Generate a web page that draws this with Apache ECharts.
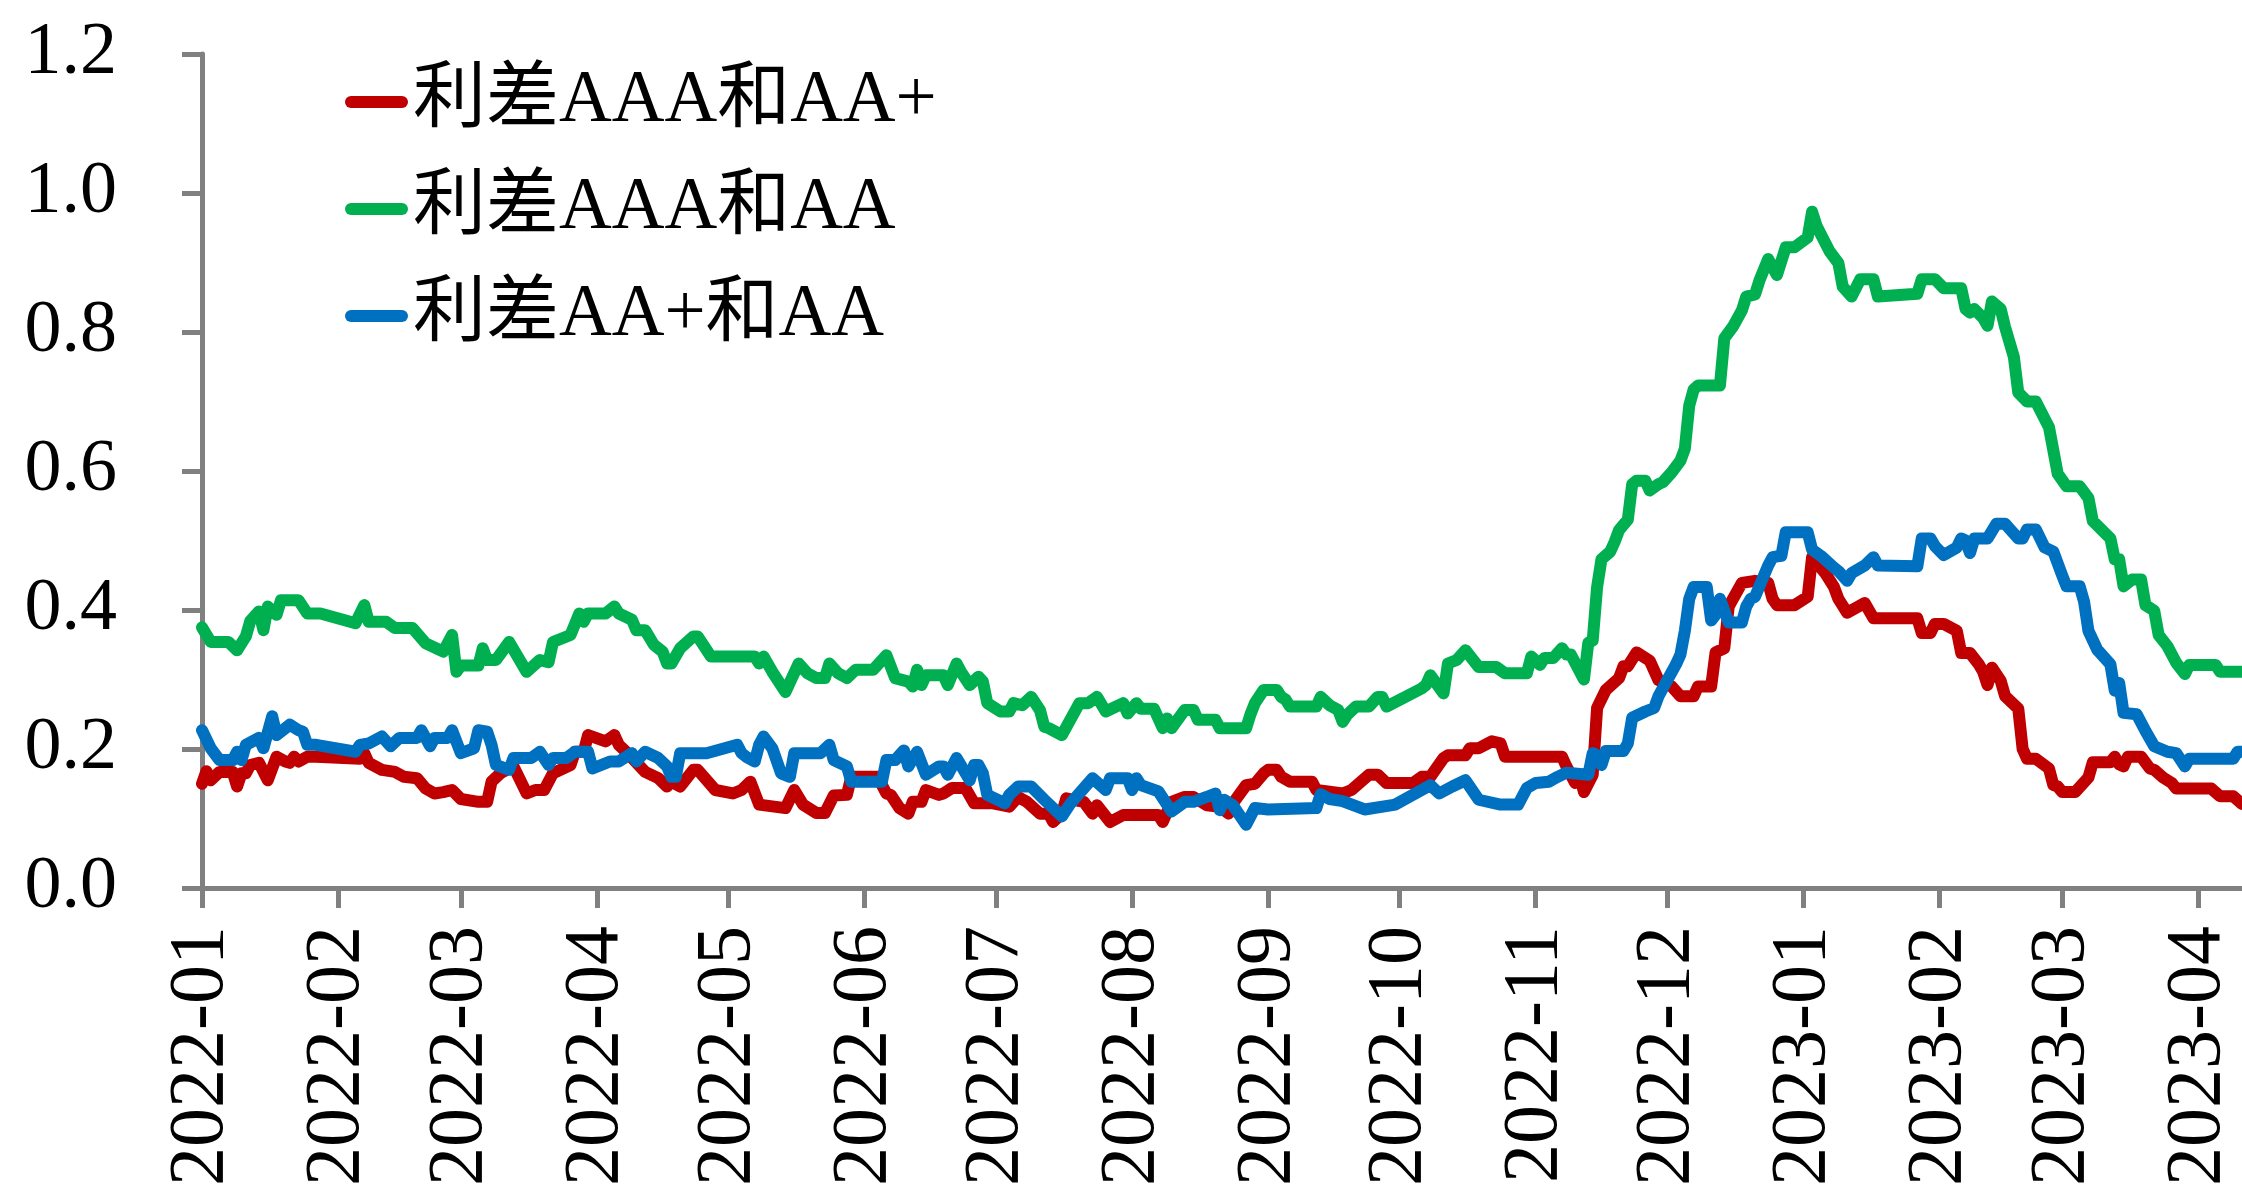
<!DOCTYPE html>
<html>
<head>
<meta charset="utf-8">
<script src="https://cdn.jsdelivr.net/npm/echarts@6/dist/echarts.min.js"></script>
<style>
  html, body { margin: 0; padding: 0; background: #fff; }
  #chart { width: 2242px; height: 1195px; }
</style>
</head>
<body>
<div id="chart"></div>
<script>
// Credit spread series (%), [date, value]
const seriesNames = ['利差AAA和AA+', '利差AAA和AA', '利差AA+和AA'];
const seriesColors = ['#C00000', '#00B050', '#0070C0'];

const spreadAAAvsAAplus = [
  ['2022-01-01',0.150],['2022-01-02',0.168],['2022-01-03',0.155],['2022-01-05',0.167],['2022-01-08',0.167],
  ['2022-01-09',0.146],['2022-01-10',0.165],['2022-01-11',0.165],['2022-01-12',0.177],['2022-01-14',0.180],
  ['2022-01-16',0.155],['2022-01-18',0.189],['2022-01-20',0.182],['2022-01-21',0.180],['2022-01-22',0.189],
  ['2022-01-23',0.182],['2022-01-25',0.189],['2022-01-27',0.189],['2022-02-06',0.186],['2022-02-07',0.194],
  ['2022-02-08',0.180],['2022-02-11',0.170],['2022-02-14',0.167],['2022-02-16',0.160],['2022-02-19',0.158],
  ['2022-02-21',0.143],['2022-02-23',0.136],['2022-02-25',0.138],['2022-02-27',0.141],['2022-03-01',0.128],
  ['2022-03-05',0.124],['2022-03-07',0.124],['2022-03-08',0.153],['2022-03-10',0.165],['2022-03-12',0.172],
  ['2022-03-13',0.175],['2022-03-16',0.136],['2022-03-18',0.141],['2022-03-20',0.141],['2022-03-22',0.165],
  ['2022-03-26',0.177],['2022-03-27',0.196],['2022-03-29',0.196],['2022-03-30',0.220],['2022-04-03',0.211],
  ['2022-04-05',0.220],['2022-04-06',0.206],['2022-04-08',0.194],['2022-04-12',0.167],['2022-04-15',0.158],
  ['2022-04-17',0.146],['2022-04-18',0.153],['2022-04-20',0.146],['2022-04-23',0.170],['2022-04-24',0.170],
  ['2022-04-28',0.141],['2022-05-02',0.136],['2022-05-04',0.141],['2022-05-06',0.153],['2022-05-08',0.120],
  ['2022-05-14',0.115],['2022-05-16',0.141],['2022-05-18',0.120],['2022-05-21',0.108],['2022-05-23',0.108],
  ['2022-05-25',0.133],['2022-05-28',0.134],['2022-05-29',0.160],['2022-06-04',0.160],['2022-06-06',0.136],
  ['2022-06-07',0.134],['2022-06-09',0.115],['2022-06-11',0.107],['2022-06-12',0.124],['2022-06-14',0.124],
  ['2022-06-15',0.141],['2022-06-18',0.134],['2022-06-19',0.136],['2022-06-21',0.144],['2022-06-24',0.144],
  ['2022-06-26',0.122],['2022-06-30',0.122],['2022-07-04',0.117],['2022-07-06',0.131],['2022-07-08',0.124],
  ['2022-07-11',0.107],['2022-07-13',0.107],['2022-07-14',0.095],['2022-07-16',0.107],['2022-07-17',0.129],
  ['2022-07-21',0.124],['2022-07-23',0.107],['2022-07-24',0.119],['2022-07-27',0.095],['2022-07-30',0.105],
  ['2022-08-07',0.105],['2022-08-08',0.095],['2022-08-10',0.124],['2022-08-13',0.131],['2022-08-15',0.131],
  ['2022-08-18',0.119],['2022-08-21',0.117],['2022-08-23',0.107],['2022-08-24',0.122],['2022-08-27',0.148],
  ['2022-08-29',0.150],['2022-08-31',0.165],['2022-09-01',0.170],['2022-09-03',0.170],['2022-09-04',0.160],
  ['2022-09-06',0.153],['2022-09-11',0.153],['2022-09-12',0.141],['2022-09-18',0.136],['2022-09-20',0.141],
  ['2022-09-24',0.163],['2022-09-26',0.163],['2022-09-28',0.151],['2022-10-04',0.151],['2022-10-06',0.160],
  ['2022-10-08',0.160],['2022-10-11',0.187],['2022-10-12',0.191],['2022-10-16',0.191],['2022-10-17',0.201],
  ['2022-10-19',0.201],['2022-10-22',0.211],['2022-10-24',0.208],['2022-10-25',0.189],['2022-11-07',0.189],
  ['2022-11-08',0.175],['2022-11-10',0.151],['2022-11-11',0.163],['2022-11-12',0.138],['2022-11-14',0.163],
  ['2022-11-15',0.259],['2022-11-17',0.285],['2022-11-20',0.302],['2022-11-21',0.319],['2022-11-22',0.319],
  ['2022-11-24',0.339],['2022-11-27',0.327],['2022-11-29',0.299],['2022-12-02',0.290],['2022-12-04',0.276],
  ['2022-12-07',0.276],['2022-12-08',0.290],['2022-12-11',0.290],['2022-12-12',0.339],['2022-12-14',0.345],
  ['2022-12-15',0.405],['2022-12-18',0.439],['2022-12-21',0.442],['2022-12-24',0.439],['2022-12-25',0.416],
  ['2022-12-26',0.407],['2022-12-30',0.407],['2023-01-02',0.419],['2023-01-03',0.476],['2023-01-06',0.453],
  ['2023-01-08',0.433],['2023-01-09',0.416],['2023-01-11',0.396],['2023-01-15',0.410],['2023-01-17',0.388],
  ['2023-01-27',0.388],['2023-01-28',0.367],['2023-01-30',0.367],['2023-01-31',0.380],['2023-02-02',0.380],
  ['2023-02-05',0.370],['2023-02-06',0.338],['2023-02-08',0.338],['2023-02-10',0.322],['2023-02-11',0.311],
  ['2023-02-12',0.292],['2023-02-13',0.317],['2023-02-15',0.298],['2023-02-16',0.276],['2023-02-19',0.258],
  ['2023-02-20',0.200],['2023-02-21',0.186],['2023-02-23',0.186],['2023-02-26',0.172],['2023-02-27',0.148],
  ['2023-02-28',0.146],['2023-03-01',0.138],['2023-03-04',0.138],['2023-03-07',0.159],['2023-03-08',0.181],
  ['2023-03-12',0.181],['2023-03-13',0.189],['2023-03-14',0.178],['2023-03-15',0.175],['2023-03-16',0.189],
  ['2023-03-19',0.189],['2023-03-21',0.172],['2023-03-22',0.170],['2023-03-24',0.159],['2023-03-26',0.151],
  ['2023-03-27',0.143],['2023-04-04',0.143],['2023-04-06',0.132],['2023-04-09',0.132],['2023-04-11',0.121]
];

const spreadAAAvsAA = [
  ['2022-01-01',0.375],['2022-01-03',0.354],['2022-01-07',0.354],['2022-01-09',0.342],['2022-01-11',0.362],
  ['2022-01-12',0.384],['2022-01-14',0.398],['2022-01-15',0.371],['2022-01-16',0.405],['2022-01-18',0.393],
  ['2022-01-19',0.414],['2022-01-23',0.414],['2022-01-25',0.395],['2022-01-28',0.395],['2022-02-05',0.381],
  ['2022-02-07',0.407],['2022-02-08',0.383],['2022-02-12',0.383],['2022-02-14',0.374],['2022-02-18',0.374],
  ['2022-02-21',0.352],['2022-02-25',0.340],['2022-02-27',0.364],['2022-02-28',0.311],['2022-03-01',0.320],
  ['2022-03-05',0.320],['2022-03-06',0.345],['2022-03-07',0.328],['2022-03-09',0.328],['2022-03-12',0.354],
  ['2022-03-16',0.311],['2022-03-19',0.328],['2022-03-21',0.325],['2022-03-22',0.354],['2022-03-26',0.364],
  ['2022-03-28',0.395],['2022-03-29',0.383],['2022-03-30',0.395],['2022-04-03',0.395],['2022-04-05',0.405],
  ['2022-04-06',0.395],['2022-04-09',0.386],['2022-04-10',0.371],['2022-04-12',0.371],['2022-04-14',0.350],
  ['2022-04-16',0.340],['2022-04-17',0.323],['2022-04-18',0.323],['2022-04-20',0.345],['2022-04-23',0.362],
  ['2022-04-24',0.362],['2022-04-27',0.333],['2022-05-07',0.333],['2022-05-08',0.323],['2022-05-09',0.333],
  ['2022-05-11',0.311],['2022-05-14',0.282],['2022-05-17',0.323],['2022-05-19',0.309],['2022-05-21',0.302],
  ['2022-05-23',0.302],['2022-05-24',0.323],['2022-05-26',0.309],['2022-05-28',0.302],['2022-05-30',0.314],
  ['2022-06-03',0.314],['2022-06-06',0.335],['2022-06-08',0.302],['2022-06-11',0.297],['2022-06-12',0.290],
  ['2022-06-13',0.314],['2022-06-14',0.292],['2022-06-15',0.306],['2022-06-19',0.306],['2022-06-20',0.292],
  ['2022-06-22',0.323],['2022-06-23',0.311],['2022-06-25',0.292],['2022-06-27',0.304],['2022-06-28',0.297],
  ['2022-06-29',0.266],['2022-07-02',0.254],['2022-07-04',0.254],['2022-07-05',0.266],['2022-07-07',0.263],
  ['2022-07-09',0.275],['2022-07-11',0.256],['2022-07-12',0.232],['2022-07-13',0.230],['2022-07-16',0.220],
  ['2022-07-20',0.266],['2022-07-22',0.266],['2022-07-24',0.275],['2022-07-26',0.254],['2022-07-30',0.266],
  ['2022-07-31',0.251],['2022-08-02',0.266],['2022-08-03',0.258],['2022-08-06',0.258],['2022-08-08',0.230],
  ['2022-08-09',0.244],['2022-08-10',0.230],['2022-08-13',0.256],['2022-08-15',0.256],['2022-08-16',0.242],
  ['2022-08-20',0.242],['2022-08-21',0.230],['2022-08-27',0.230],['2022-08-28',0.250],['2022-08-29',0.266],
  ['2022-08-31',0.285],['2022-09-03',0.285],['2022-09-04',0.275],['2022-09-05',0.271],['2022-09-06',0.261],
  ['2022-09-12',0.261],['2022-09-13',0.275],['2022-09-15',0.263],['2022-09-17',0.256],['2022-09-18',0.239],
  ['2022-09-19',0.249],['2022-09-21',0.261],['2022-09-24',0.261],['2022-09-26',0.275],['2022-09-27',0.275],
  ['2022-09-28',0.261],['2022-10-06',0.287],['2022-10-07',0.292],['2022-10-08',0.306],['2022-10-11',0.280],
  ['2022-10-12',0.323],['2022-10-14',0.328],['2022-10-16',0.342],['2022-10-19',0.318],['2022-10-23',0.318],
  ['2022-10-25',0.309],['2022-10-30',0.309],['2022-10-31',0.333],['2022-11-02',0.321],['2022-11-03',0.331],
  ['2022-11-05',0.331],['2022-11-07',0.345],['2022-11-08',0.336],['2022-11-09',0.336],['2022-11-12',0.300],
  ['2022-11-13',0.353],['2022-11-14',0.356],['2022-11-15',0.433],['2022-11-16',0.473],['2022-11-18',0.484],
  ['2022-11-19',0.498],['2022-11-20',0.515],['2022-11-22',0.530],['2022-11-23',0.581],['2022-11-24',0.586],
  ['2022-11-26',0.586],['2022-11-27',0.572],['2022-11-29',0.581],['2022-11-30',0.584],['2022-12-02',0.598],
  ['2022-12-04',0.615],['2022-12-05',0.632],['2022-12-06',0.694],['2022-12-07',0.717],['2022-12-08',0.723],
  ['2022-12-13',0.723],['2022-12-14',0.791],['2022-12-16',0.808],['2022-12-18',0.831],['2022-12-19',0.851],
  ['2022-12-21',0.854],['2022-12-22',0.874],['2022-12-24',0.905],['2022-12-26',0.882],['2022-12-28',0.922],
  ['2022-12-30',0.922],['2023-01-02',0.936],['2023-01-03',0.973],['2023-01-04',0.953],['2023-01-07',0.916],
  ['2023-01-09',0.899],['2023-01-10',0.865],['2023-01-12',0.851],['2023-01-14',0.876],['2023-01-17',0.876],
  ['2023-01-18',0.851],['2023-01-27',0.855],['2023-01-28',0.876],['2023-01-31',0.876],['2023-02-02',0.863],
  ['2023-02-06',0.863],['2023-02-07',0.833],['2023-02-08',0.828],['2023-02-09',0.833],['2023-02-11',0.820],
  ['2023-02-12',0.809],['2023-02-13',0.844],['2023-02-15',0.833],['2023-02-16',0.807],['2023-02-18',0.764],
  ['2023-02-19',0.713],['2023-02-21',0.700],['2023-02-23',0.700],['2023-02-26',0.663],['2023-02-28',0.596],
  ['2023-03-02',0.578],['2023-03-05',0.578],['2023-03-07',0.561],['2023-03-08',0.528],['2023-03-12',0.503],
  ['2023-03-13',0.473],['2023-03-14',0.473],['2023-03-15',0.434],['2023-03-17',0.444],['2023-03-19',0.444],
  ['2023-03-20',0.407],['2023-03-22',0.399],['2023-03-23',0.364],['2023-03-25',0.348],['2023-03-27',0.324],
  ['2023-03-29',0.308],['2023-03-30',0.321],['2023-04-05',0.321],['2023-04-06',0.311],['2023-04-11',0.311]
];

const spreadAAplusVsAA = [
  ['2022-01-01',0.227],['2022-01-03',0.201],['2022-01-05',0.184],['2022-01-08',0.184],['2022-01-09',0.196],
  ['2022-01-10',0.184],['2022-01-11',0.206],['2022-01-14',0.216],['2022-01-15',0.201],['2022-01-17',0.247],
  ['2022-01-18',0.220],['2022-01-21',0.235],['2022-01-23',0.227],['2022-01-24',0.225],['2022-01-25',0.206],
  ['2022-01-27',0.206],['2022-02-05',0.196],['2022-02-06',0.206],['2022-02-08',0.208],['2022-02-11',0.218],
  ['2022-02-13',0.204],['2022-02-15',0.216],['2022-02-19',0.216],['2022-02-20',0.227],['2022-02-22',0.204],
  ['2022-02-23',0.216],['2022-02-26',0.216],['2022-02-27',0.227],['2022-03-01',0.194],['2022-03-04',0.201],
  ['2022-03-05',0.227],['2022-03-07',0.225],['2022-03-08',0.206],['2022-03-09',0.177],['2022-03-12',0.170],
  ['2022-03-13',0.187],['2022-03-17',0.187],['2022-03-19',0.196],['2022-03-21',0.177],['2022-03-22',0.187],
  ['2022-03-25',0.187],['2022-03-27',0.196],['2022-03-30',0.196],['2022-03-31',0.172],['2022-04-04',0.182],
  ['2022-04-06',0.182],['2022-04-09',0.194],['2022-04-10',0.182],['2022-04-12',0.196],['2022-04-15',0.187],
  ['2022-04-17',0.175],['2022-04-18',0.160],['2022-04-19',0.160],['2022-04-20',0.194],['2022-04-26',0.194],
  ['2022-05-03',0.206],['2022-05-04',0.194],['2022-05-05',0.189],['2022-05-07',0.182],['2022-05-08',0.206],
  ['2022-05-09',0.218],['2022-05-11',0.201],['2022-05-13',0.165],['2022-05-15',0.160],['2022-05-16',0.194],
  ['2022-05-22',0.194],['2022-05-24',0.206],['2022-05-25',0.184],['2022-05-28',0.175],['2022-05-29',0.153],
  ['2022-06-05',0.153],['2022-06-06',0.184],['2022-06-08',0.184],['2022-06-10',0.198],['2022-06-11',0.175],
  ['2022-06-13',0.196],['2022-06-15',0.163],['2022-06-18',0.175],['2022-06-19',0.175],['2022-06-20',0.163],
  ['2022-06-22',0.187],['2022-06-25',0.155],['2022-06-26',0.177],['2022-06-27',0.177],['2022-06-28',0.165],
  ['2022-06-29',0.134],['2022-07-03',0.122],['2022-07-04',0.134],['2022-07-06',0.146],['2022-07-09',0.146],
  ['2022-07-12',0.127],['2022-07-16',0.103],['2022-07-18',0.122],['2022-07-23',0.158],['2022-07-26',0.141],
  ['2022-07-27',0.158],['2022-07-31',0.158],['2022-08-01',0.141],['2022-08-02',0.158],['2022-08-03',0.148],
  ['2022-08-07',0.139],['2022-08-10',0.110],['2022-08-13',0.124],['2022-08-15',0.124],['2022-08-18',0.131],
  ['2022-08-20',0.136],['2022-08-21',0.112],['2022-08-22',0.127],['2022-08-24',0.119],['2022-08-27',0.091],
  ['2022-08-29',0.115],['2022-09-01',0.113],['2022-09-12',0.115],['2022-09-13',0.135],['2022-09-15',0.128],
  ['2022-09-18',0.125],['2022-09-23',0.113],['2022-09-30',0.120],['2022-10-06',0.141],['2022-10-08',0.148],
  ['2022-10-10',0.136],['2022-10-13',0.146],['2022-10-16',0.155],['2022-10-19',0.127],['2022-10-24',0.120],
  ['2022-10-28',0.120],['2022-10-30',0.144],['2022-11-01',0.151],['2022-11-04',0.153],['2022-11-06',0.160],
  ['2022-11-08',0.166],['2022-11-13',0.163],['2022-11-14',0.194],['2022-11-15',0.191],['2022-11-16',0.177],
  ['2022-11-17',0.197],['2022-11-21',0.197],['2022-11-22',0.208],['2022-11-23',0.245],['2022-11-26',0.254],
  ['2022-11-28',0.259],['2022-11-29',0.276],['2022-12-03',0.322],['2022-12-04',0.336],['2022-12-05',0.370],
  ['2022-12-06',0.416],['2022-12-07',0.433],['2022-12-10',0.433],['2022-12-11',0.385],['2022-12-12',0.393],
  ['2022-12-13',0.416],['2022-12-15',0.382],['2022-12-18',0.382],['2022-12-19',0.405],['2022-12-20',0.416],
  ['2022-12-21',0.419],['2022-12-24',0.464],['2022-12-25',0.476],['2022-12-27',0.478],['2022-12-28',0.512],
  ['2023-01-02',0.512],['2023-01-03',0.487],['2023-01-05',0.478],['2023-01-08',0.461],['2023-01-09',0.456],
  ['2023-01-11',0.442],['2023-01-12',0.453],['2023-01-15',0.464],['2023-01-17',0.476],['2023-01-18',0.464],
  ['2023-01-27',0.463],['2023-01-28',0.503],['2023-01-30',0.503],['2023-01-31',0.492],['2023-02-02',0.479],
  ['2023-02-05',0.490],['2023-02-06',0.503],['2023-02-07',0.500],['2023-02-08',0.482],['2023-02-09',0.503],
  ['2023-02-12',0.503],['2023-02-14',0.524],['2023-02-16',0.524],['2023-02-19',0.503],['2023-02-20',0.503],
  ['2023-02-21',0.516],['2023-02-23',0.516],['2023-02-25',0.490],['2023-02-27',0.484],['2023-03-01',0.450],
  ['2023-03-02',0.434],['2023-03-05',0.434],['2023-03-06',0.412],['2023-03-07',0.370],['2023-03-09',0.343],
  ['2023-03-12',0.322],['2023-03-13',0.284],['2023-03-14',0.295],['2023-03-15',0.252],['2023-03-18',0.250],
  ['2023-03-20',0.226],['2023-03-22',0.204],['2023-03-25',0.196],['2023-03-27',0.194],['2023-03-29',0.175],
  ['2023-03-30',0.186],['2023-04-09',0.186],['2023-04-10',0.196],['2023-04-11',0.196]
];

const xStart = '2022-01-01';
const xEnd = '2023-04-11';
const yTicks = [0, 0.2, 0.4, 0.6, 0.8, 1.0, 1.2];

const seriesData = [spreadAAAvsAAplus, spreadAAAvsAA, spreadAAplusVsAA];

const FONT = '"Liberation Serif", "Times New Roman", "Noto Sans CJK SC", serif';
const AXIS_GREY = '#808080';
const DAY = 24 * 3600 * 1000;

const chart = echarts.init(document.getElementById('chart'), null, { renderer: 'canvas' });

chart.setOption({
  animation: false,
  backgroundColor: '#ffffff',
  grid: { left: 202, right: 0, top: 54, bottom: 307, containLabel: false },
  legend: {
    orient: 'vertical',
    left: 340,
    top: 57,
    itemGap: 27,
    itemWidth: 63,
    itemHeight: 12,
    icon: 'path://M6,0 H57 A6,6 0 0 1 57,12 H6 A6,6 0 0 1 6,0 Z',
    textStyle: { fontFamily: FONT, fontSize: 73, color: '#000', lineHeight: 80, padding: [0, 0, 0, 0] },
    data: seriesNames
  },
  xAxis: {
    type: 'time',
    min: xStart,
    max: xEnd,
    minInterval: 28 * DAY,
    maxInterval: 31 * DAY,
    axisLine: { show: true, lineStyle: { color: AXIS_GREY, width: 5 } },
    axisTick: { show: true, length: 20, lineStyle: { color: AXIS_GREY, width: 5 } },
    splitLine: { show: false },
    axisLabel: {
      rotate: 90,
      margin: 38,
      fontFamily: FONT,
      fontSize: 78,
      color: '#000',
      hideOverlap: false,
      formatter: '{yyyy}-{MM}'
    }
  },
  yAxis: {
    type: 'value',
    min: yTicks[0],
    max: yTicks[yTicks.length - 1],
    interval: 0.2,
    axisLine: { show: true, lineStyle: { color: AXIS_GREY, width: 5 } },
    axisTick: { show: true, length: 20, lineStyle: { color: AXIS_GREY, width: 5 } },
    splitLine: { show: false },
    axisLabel: {
      margin: 85,
      fontFamily: FONT,
      fontSize: 74,
      color: '#000',
      formatter: v => v.toFixed(1)
    }
  },
  series: seriesNames.map((name, i) => ({
    name,
    type: 'line',
    data: seriesData[i],
    showSymbol: false,
    symbol: 'none',
    color: seriesColors[i],
    lineStyle: { color: seriesColors[i], width: 12, cap: 'round', join: 'round' },
    z: 2 + i
  }))
});
</script>
</body>
</html>
